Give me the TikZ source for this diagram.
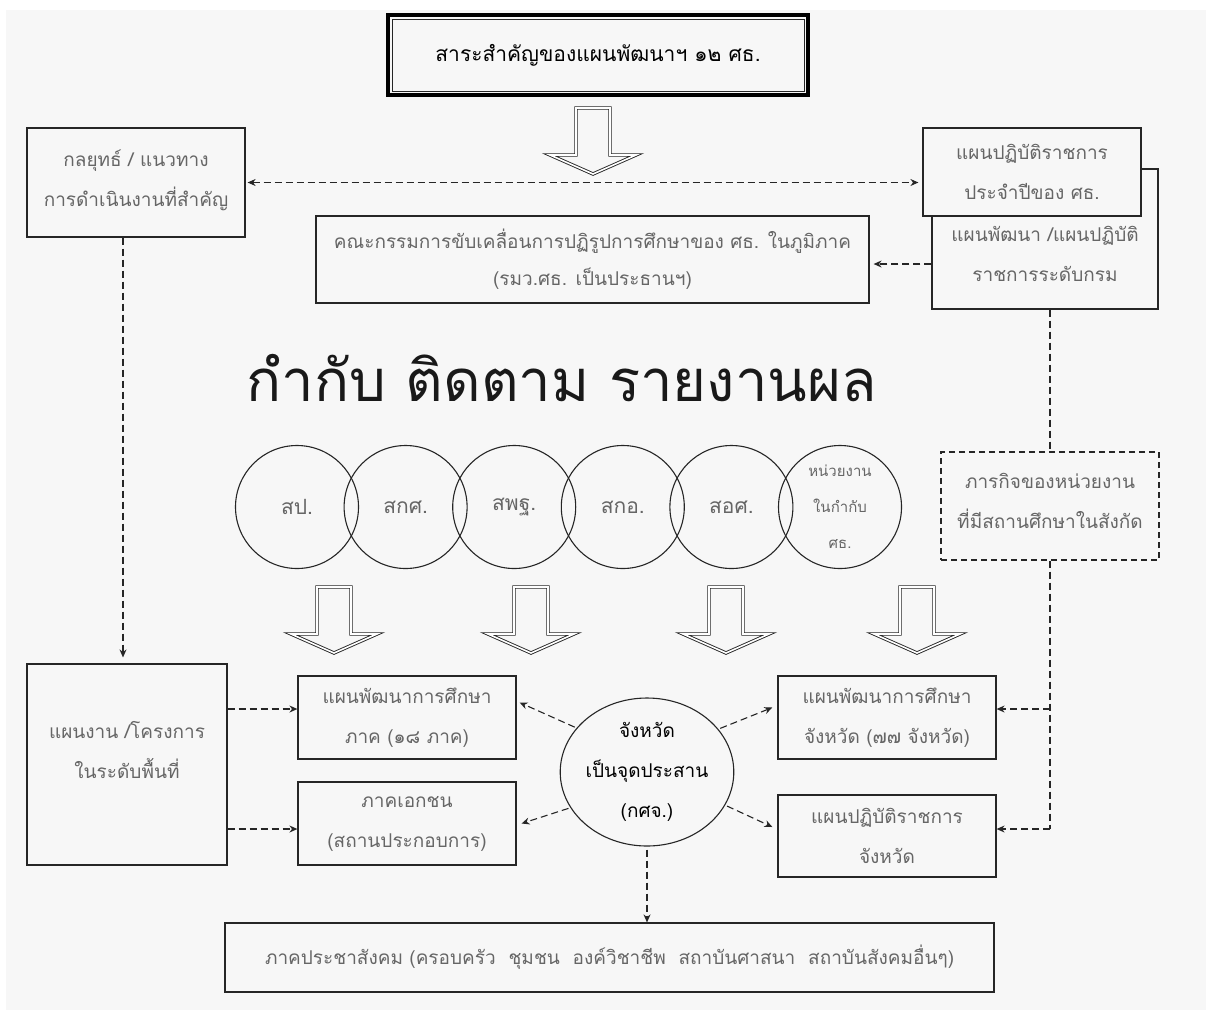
\documentclass[tikz,border=0pt]{standalone}
\usepackage{fontspec}
\newfontfamily\thai[Script=Thai]{Loma}
\usetikzlibrary{arrows.meta,shapes.geometric,calc}
\definecolor{bggray}{HTML}{F7F7F7}
\definecolor{txtgray}{HTML}{666666}
\definecolor{linec}{HTML}{262626}
\begin{document}
\begin{tikzpicture}[x=1pt,y=-1pt,
  box/.style={draw=linec, line width=1.2pt, fill=bggray, align=center, inner sep=0pt,
    text=txtgray, font=\thai\fontsize{19}{40}\selectfont},
  dbox/.style={box, dashed, dash pattern=on 6pt off 4pt},
  circ/.style={circle, draw=linec, line width=1.1pt, minimum size=123pt, inner sep=0pt,
    align=center, text=txtgray, font=\thai\fontsize{21}{36}\selectfont},
  conn/.style={draw=linec, line width=1.1pt, dash pattern=on 7pt off 4pt},
  arr/.style={conn, -{Stealth[length=8pt,width=7pt]}},
  barrow/.style={draw=black!85, line width=0.9pt, double=white, double distance=1.6pt,
    fill=bggray, line join=miter},
  blockarrow/.pic={\draw[barrow] (-17,0) -- (17,0) -- (17,47) -- (43,47) -- (0,66)
    -- (-43,47) -- (-17,47) -- cycle;}
]
% background
\useasboundingbox (0,0) rectangle (1206,1010);
\fill[white] (0,0) rectangle (1206,1010);
\fill[bggray] (6,10) rectangle (1206,1010);

% title
\node[box, line width=4pt, draw=black, minimum width=420pt, minimum height=80pt,
  text=black, font=\thai\fontsize{21}{30}\selectfont] (title) at (598,55)
  {สาระสำคัญของแผนพัฒนาฯ ๑๒ ศธ.};
\draw[linec, line width=1pt] ([shift={(6pt,-6pt)}]title.north west)
  rectangle ([shift={(-6pt,6pt)}]title.south east);
\pic (ba0) at (593,108) {blockarrow};

% upper boxes
\node[box, minimum width=218pt, minimum height=109pt] (A) at (136,182.5)
  {กลยุทธ์ / แนวทาง\\การดำเนินงานที่สำคัญ\rule[-8pt]{0pt}{0pt}};
\node[box, minimum width=226pt, minimum height=140pt] (C) at (1045,239)
  {\rule{0pt}{46pt}แผนพัฒนา /แผนปฏิบัติ\\ราชการระดับกรม};
\node[box, minimum width=218pt, minimum height=88pt] (B) at (1032,172)
  {แผนปฏิบัติราชการ\\ประจำปีของ ศธ.};
\node[box, minimum width=553pt, minimum height=87pt,
  font=\thai\fontsize{19}{37}\selectfont] (D) at (592.5,259.5)
  {คณะกรรมการขับเคลื่อนการปฏิรูปการศึกษาของ ศธ. ในภูมิภาค\\(รมว.ศธ. เป็นประธานฯ)};

% heading
\node[font=\thai\fontsize{58}{70}\selectfont, text=black!90] (hd) at (562,378)
  {กำกับ ติดตาม รายงานผล};

% circles
\node[circ] (c1) at (297,507) {สป.};
\node[circ] (c2) at (405.6,507) {สกศ.};
\node[circ] (c3) at (514.2,507) {สพฐ.};
\node[circ] (c4) at (622.8,507) {สกอ.};
\node[circ] (c5) at (731.4,507) {สอศ.};
\node[circ, font=\thai\fontsize{15}{36}\selectfont] (c6) at (840,507)
  {หน่วยงาน\\ในกำกับ\\ศธ.};

\node[dbox, minimum width=218pt, minimum height=108pt] (E) at (1050,506)
  {ภารกิจของหน่วยงาน\\ที่มีสถานศึกษาในสังกัด\rule[-10pt]{0pt}{0pt}};

% block arrows
\pic (ba1) at (334,587) {blockarrow};
\pic (ba2) at (531,587) {blockarrow};
\pic (ba3) at (726,587) {blockarrow};
\pic (ba4) at (917,587) {blockarrow};

% lower boxes
\node[box, minimum width=200pt, minimum height=201pt] (F) at (127,764.5)
  {แผนงาน /โครงการ\\ในระดับพื้นที่\rule[-30pt]{0pt}{0pt}};
\node[box, minimum width=218pt, minimum height=83pt] (G1) at (407,717.5)
  {แผนพัฒนาการศึกษา\\ภาค (๑๘ ภาค)};
\node[box, minimum width=218pt, minimum height=83pt] (G2) at (407,823.5)
  {ภาคเอกชน\\(สถานประกอบการ)};
\node[box, minimum width=218pt, minimum height=83pt] (H) at (887,717.5)
  {แผนพัฒนาการศึกษา\\จังหวัด (๗๗ จังหวัด)};
\node[box, minimum width=218pt, minimum height=82pt] (I) at (887,836)
  {แผนปฏิบัติราชการ\\จังหวัด};
\node[ellipse, draw=linec, line width=1.1pt, fill=bggray, minimum width=172pt,
  minimum height=148pt, inner sep=0pt, align=center, text=black,
  font=\thai\fontsize{19}{40}\selectfont] (K) at (647,772)
  {จังหวัด\\เป็นจุดประสาน\\(กศจ.)};
\node[box, minimum width=769pt, minimum height=69pt] (J) at (609.5,957.5)
  {ภาคประชาสังคม (ครอบครัว~ ชุมชน~ องค์วิชาชีพ~ สถาบันศาสนา~ สถาบันสังคมอื่นๆ)};

% connectors
\draw[conn, {Stealth[length=8pt,width=7pt]}-{Stealth[length=8pt,width=7pt]}]
  ([xshift=2pt]A.east) -- ([xshift=-4pt]A.east -| B.west);
\coordinate (cw) at ([yshift=-25pt]C.west);
\draw[arr] (cw) -- ([xshift=4pt]cw -| D.east);
\coordinate (as) at ([xshift=-13pt]A.south);
\draw[arr] (as) -- ([yshift=6pt]as |- F.north);
\draw[conn] (E.north |- C.south) -- (E.north);
\coordinate (harr) at ([yshift=8.5pt]H.east);
\coordinate (iarr) at ([yshift=7pt]I.east);
\draw[conn] (E.south) -- (E.south |- iarr);
\draw[arr] (E.south |- harr) -- (harr);
\draw[arr] (E.south |- iarr) -- (iarr);
\coordinate (g1arr) at ([yshift=8.5pt]G1.west);
\coordinate (g2arr) at ([yshift=-5.5pt]G2.west);
\draw[arr] (F.east |- g1arr) -- (g1arr);
\draw[arr] (F.east |- g2arr) -- (g2arr);
\draw[arr, shorten <=2pt] (K.148) -- ([xshift=3pt,yshift=15pt]G1.east);
\draw[arr, shorten <=2pt] (K.205) -- ([xshift=5pt]G2.east);
\draw[arr, shorten <=2pt] (K.31) -- ([xshift=-5pt,yshift=10pt]H.west);
\draw[arr, shorten <=2pt] (K.337) -- ([xshift=-5pt,yshift=9pt]I.west);
\draw[arr, shorten <=3pt] (K.south) -- (K.south |- J.north);
\end{tikzpicture}
\end{document}
